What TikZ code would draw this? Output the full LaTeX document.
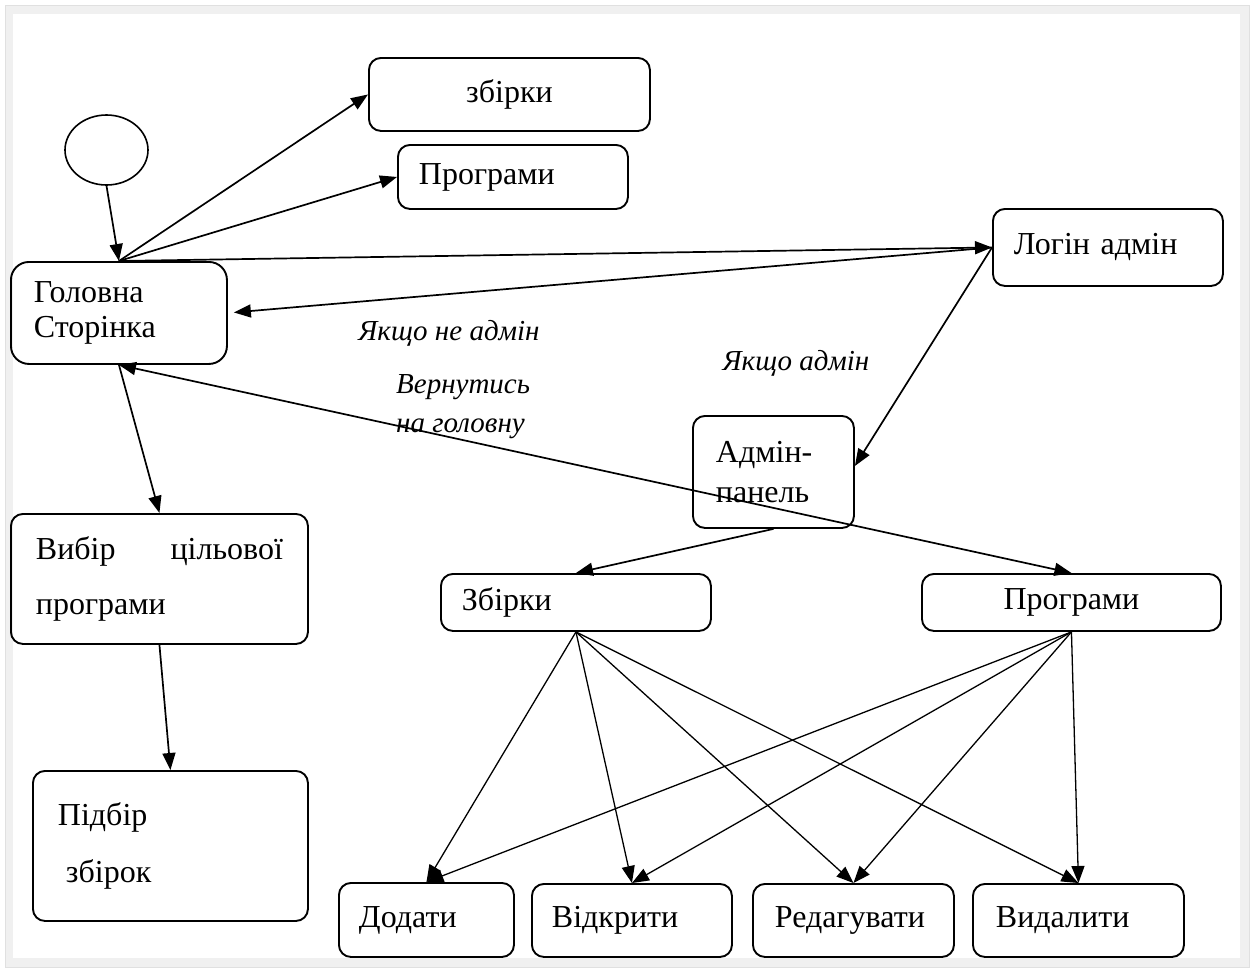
\documentclass[tikz,border=0pt]{standalone}
\usepackage{fontspec}
\setmainfont{Liberation Serif}
\usetikzlibrary{arrows.meta,shapes.geometric}
\begin{document}
\begin{tikzpicture}[x=1pt,y=-1pt,
    box/.style={draw,line width=1.9pt,rounded corners=12pt,anchor=north west,inner ysep=0pt,align=left,font=\fontsize{32}{35}\selectfont},
    lbl/.style={font=\fontsize{29}{39}\selectfont\itshape,inner sep=0pt,align=left},
    go/.style={line width=1.7pt,-{Triangle[length=17pt,width=13pt]}},
    sub/.style={line width=1.3pt,-{Triangle[length=17pt,width=13pt]}}]
    \useasboundingbox (0,0) rectangle (1252,970);
    \fill[white] (0,0) rectangle (1252,970);
    \filldraw[fill=black!6,draw=black!12,line width=0.8pt] (5,5) rectangle (1249,967);
    \fill[white] (13,14) rectangle (1240,958);

    \node[ellipse,draw,line width=1.6pt,minimum width=83pt,minimum height=70pt] (start) at (106.5,150) {};
    \node[box,rounded corners=18pt,minimum width=216pt,minimum height=102pt,inner xsep=23pt,text width=170pt] (home) at (10,261) {Головна\\Сторінка};
    \node[box,minimum width=281pt,minimum height=73pt,inner xsep=10pt,text width=261pt,align=center] (zbirky) at (368,57) {збірки};
    \node[box,minimum width=230pt,minimum height=64pt,inner xsep=21pt,text width=188pt] (prog) at (397,144) {Програми};
    \node[box,minimum width=230pt,minimum height=77pt,inner xsep=21pt,text width=188pt] (login) at (992,208) {Логін адмін};
    \node[box,minimum width=161pt,minimum height=112pt,inner xsep=23pt,text width=115pt,font=\fontsize{32}{40}\selectfont] (admin) at (692,415) {Адмін-\\панель};
    \node[box,minimum width=297pt,minimum height=130pt,inner xsep=25pt,text width=247pt,font=\fontsize{32}{55}\selectfont] (vybir) at (10,513) {Вибір\hfill цільової\\програми};
    \node[box,minimum width=275pt,minimum height=150pt,inner xsep=25pt,text width=225pt,font=\fontsize{32}{57}\selectfont] (pidbir) at (32,770) {Підбір\\\hspace*{8pt}збірок};
    \node[box,minimum width=270pt,minimum height=57pt,inner xsep=21pt,text width=228pt] (zb2) at (440,573) {Збірки};
    \node[box,minimum width=299pt,minimum height=57pt,inner xsep=10pt,text width=279pt,align=center] (pr2) at (921,573) {Програми};
    \node[box,minimum width=175pt,minimum height=74pt,inner xsep=20pt,text width=135pt] (dodaty) at (338,882) {Додати};
    \node[box,minimum width=200pt,minimum height=73pt,inner xsep=20pt,text width=160pt] (vidkr) at (531,883) {Відкрити};
    \node[box,minimum width=201pt,minimum height=73pt,inner xsep=22pt,text width=157pt] (redag) at (752,883) {Редагувати};
    \node[box,minimum width=211pt,minimum height=73pt,inner xsep=23pt,text width=165pt] (vydal) at (972,883) {Видалити};

    \node[lbl] (ne) at (449,333) {Якщо не адмін};
    \node[lbl] (tak) at (796,363) {Якщо адмін};
    \node[lbl,anchor=west] (back) at (396,407) {Вернутись\\на головну};

    \draw[go] (start.south) -- (home.north);
    \draw[go] (home.north) -- (zbirky.west);
    \draw[go] (home.north) -- (prog.west);
    \draw[go] (home.north) -- (login.west);
    \draw[go,shorten >=6pt] (login.west) -- (home.east);
    \draw[go] (login.west) -- ([yshift=6pt]admin.east);
    \draw[go] (home.south) -- (vybir.north);
    \draw[go] (vybir.south) -- (pidbir.north);
    \draw[go] (admin.south) -- (zb2.north);
    \draw[line width=1.7pt,{Triangle[length=17pt,width=13pt]}-{Triangle[length=17pt,width=13pt]}] (home.south) -- (pr2.north);
    \foreach \t in {dodaty,vidkr,redag,vydal}{
        \draw[sub] (zb2.south) -- (\t.north);
        \draw[sub] (pr2.south) -- (\t.north);
    }
\end{tikzpicture}
\end{document}
